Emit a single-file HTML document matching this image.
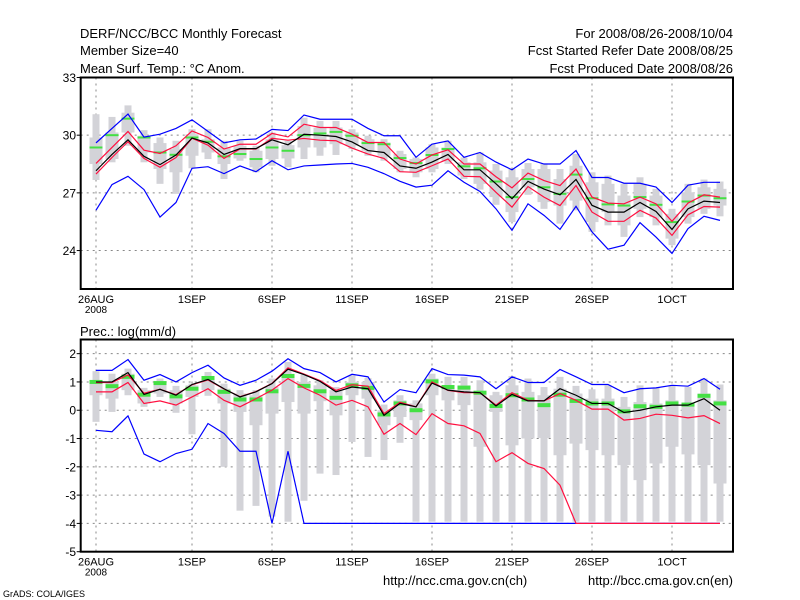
<!DOCTYPE html>
<html><head><meta charset="utf-8"><style>
body{margin:0;background:#fff;}
svg{display:block;}
text{font-family:"Liberation Sans",sans-serif;fill:#000;}
</style></head><body>
<svg id="c" width="800" height="600" viewBox="0 0 800 600" xmlns="http://www.w3.org/2000/svg">
<rect width="800" height="600" fill="#fff"/>
<g font-size="13">
<text x="80" y="38">DERF/NCC/BCC Monthly Forecast</text>
<text x="80" y="55">Member Size=40</text>
<text x="80" y="73">Mean Surf. Temp.: °C Anom.</text>
<text x="733" y="38" text-anchor="end">For 2008/08/26-2008/10/04</text>
<text x="733" y="55" text-anchor="end">Fcst Started Refer Date 2008/08/25</text>
<text x="733" y="73" text-anchor="end">Fcst Produced Date 2008/08/26</text>
<text x="80" y="336">Prec.: log(mm/d)</text>
<text x="383" y="585">http://ncc.cma.gov.cn(ch)</text>
<text x="733" y="585" text-anchor="end">http://bcc.cma.gov.cn(en)</text>
<text x="3" y="597" font-size="9">GrADS: COLA/IGES</text>
</g>
</svg>
<script>
// ---------- data: temperature panel ----------
const tBlack=[28.15,29.0,29.76,28.9,28.47,28.97,29.85,29.6,29.0,29.3,29.3,29.76,29.5,30.05,30.0,29.93,29.65,29.2,29.1,28.4,28.28,28.6,29.0,28.2,28.2,27.47,26.7,27.6,27.2,26.9,27.7,26.35,26.0,26.0,26.5,26.03,25.1,26.17,26.57,26.5];
const tRedUp=[28.53,29.36,30.19,29.22,29.05,29.45,30.22,29.88,29.28,29.53,29.53,30.09,29.91,30.57,30.4,30.4,30.05,29.62,29.62,28.76,28.5,28.97,29.24,28.5,28.5,27.84,27.26,28.03,27.64,27.38,28.24,26.78,26.47,26.43,26.78,26.43,25.52,26.47,26.9,26.78];
const tRedLo=[27.98,28.84,29.66,28.79,28.33,28.84,29.84,29.48,28.79,29.28,29.28,29.84,29.74,29.83,29.74,29.71,29.33,29.02,28.79,28.1,28.07,28.41,28.76,27.86,27.84,27.03,26.26,27.33,26.78,26.34,27.38,26.0,25.52,25.52,26.09,25.69,24.79,25.86,26.29,26.26];
const tBlueUp=[29.6,30.35,31.1,29.9,30.05,30.35,30.8,30.2,29.6,29.76,29.8,30.3,30.24,31.05,30.83,30.83,30.83,30.35,29.97,29.97,28.85,29.53,29.7,28.85,29.1,28.6,28.2,28.76,28.5,28.5,29.2,27.8,27.8,27.5,27.5,27.3,26.5,27.4,27.55,27.55];
const tBlueLo=[26.1,27.43,27.86,27.17,25.74,26.5,28.28,28.36,28.0,28.4,28.1,28.67,28.2,28.4,28.45,28.5,28.53,28.33,28.0,27.6,27.3,27.4,28.15,27.55,27.07,26.17,25.05,26.43,25.83,25.1,26.3,24.97,24.07,24.28,25.45,24.7,23.85,25.14,25.78,25.57];
const tMean=[29.36,30.0,30.86,29.88,29.1,28.98,29.88,29.66,28.9,29.02,28.76,29.36,29.19,30.0,30.09,30.17,29.97,29.59,29.53,28.81,28.55,28.97,29.28,28.38,28.28,27.59,26.78,27.72,27.29,26.95,27.95,26.72,26.4,26.34,26.78,26.38,25.48,26.55,26.86,26.72];
const tMax=[31.09,30.95,31.55,30.26,29.88,29.71,30.31,30.31,29.71,29.71,29.45,30.14,29.71,30.91,30.74,30.74,30.31,29.97,29.79,29.19,28.84,29.53,29.71,28.84,29.1,28.5,28.24,28.55,28.53,28.24,29.02,28.07,27.9,27.47,27.81,27.21,26.17,27.47,27.69,27.59];
const tMin=[27.67,28.59,29.45,28.59,27.47,26.95,28.28,28.76,27.72,28.67,28.07,28.41,28.33,28.76,28.93,28.97,29.28,28.93,28.67,28.07,27.81,28.07,28.5,27.72,27.17,26.38,25.48,26.9,26.17,25.4,26.09,24.97,25.31,24.71,25.74,25.31,24.28,25.4,25.91,25.78];
const tQ3=[29.88,30.14,31.17,29.97,29.59,29.28,30.05,29.79,29.36,29.45,29.19,29.79,29.48,30.48,30.4,30.4,30.14,29.79,29.62,29.02,28.76,29.36,29.36,28.59,28.59,28.16,27.81,28.24,28.24,27.72,28.41,27.55,27.47,26.86,27.47,26.86,25.91,27.03,27.29,27.21];
const tQ1=[28.5,28.76,30.14,29.1,28.24,28.07,28.93,29.1,28.5,28.79,28.33,28.76,28.79,29.36,29.36,29.53,29.45,29.19,28.93,28.24,28.07,28.24,28.67,27.9,27.47,26.78,26.0,27.29,26.52,26.34,26.6,25.48,26.0,25.31,26.17,25.74,24.62,25.74,26.17,26.34];
const tTicks=[24,27,30,33];
// ---------- data: precipitation panel ----------
const pBlack=[1.0,1.0,1.33,0.56,0.74,0.53,0.91,1.09,0.76,0.47,0.65,0.94,1.45,1.26,1.02,0.65,0.82,0.76,-0.18,0.24,0.12,0.96,0.71,0.65,0.62,0.15,0.56,0.33,0.33,0.76,0.53,0.24,0.24,-0.08,0,0.12,0.18,0.18,0.41,0];
const pRedUp=[0.98,0.98,1.25,0.6,0.74,0.55,0.9,1.07,0.75,0.48,0.66,0.95,1.5,1.28,1.05,0.7,0.9,0.85,-0.12,0.28,0.12,1.0,0.7,0.62,0.62,0.18,0.62,0.35,0.33,0.59,0.35,0.04,0.04,-0.35,-0.29,-0.14,-0.18,-0.27,-0.19,-0.47];
const pRedLo=[0.65,0.65,0.98,0.24,0.33,0.18,0.47,0.76,0.35,0.12,0.41,0.71,1.12,0.79,0.53,0.18,0.35,0.12,-0.85,-0.47,-0.86,-0.12,-0.47,-0.55,-0.82,-1.82,-1.5,-1.88,-2.06,-2.65,-4,-4,-4,-4,-4,-4,-4,-4,-4,-4];
const pBlueUp=[1.41,1.41,1.79,1.06,1.26,1.0,1.33,1.59,1.14,0.88,1.06,1.38,1.82,1.47,1.33,1.0,1.27,1.18,0.29,0.73,0.62,1.47,1.26,1.24,1.18,0.76,1.18,0.98,0.98,1.44,1.18,0.91,0.91,0.62,0.76,0.79,0.88,0.85,1.12,0.74];
const pBlueLo=[-0.71,-0.76,-0.2,-1.55,-1.82,-1.53,-1.38,-0.47,-0.82,-1.45,-1.45,-4,-1.45,-4,-4,-4,-4,-4,-4,-4,-4,-4,-4,-4,-4,-4,-4,-4,-4,-4,-4,-4,-4,-4,-4,-4,-4,-4,-4,-4];
const pMean=[1.0,0.85,1.18,0.55,0.96,0.49,0.76,1.14,0.65,0.38,0.38,0.67,1.21,0.86,0.67,0.44,0.88,0.79,-0.15,0.24,0.0,1.02,0.82,0.8,0.62,0.15,0.53,0.38,0.18,0.55,0.33,0.24,0.24,-0.04,0.14,0.12,0.24,0.2,0.51,0.24];
const pMax=[1.38,1.29,1.47,0.79,1.12,0.86,0.94,1.35,0.94,0.71,0.71,1.12,1.71,1.26,1.06,0.82,1.24,1.14,0.2,0.53,0.35,1.29,1.18,1.18,1.06,0.65,1.21,1.12,0.82,1.18,0.86,0.74,0.88,0.47,0.88,0.79,0.88,0.82,1.12,0.91];
const pMin=[-0.41,-0.06,0.53,0.12,0.47,-0.09,-0.85,0.51,-2.0,-3.55,-3.38,-3.76,-3.94,-3.2,-2.24,-2.29,-1.12,-1.65,-1.76,-1.15,-3.94,-3.94,-3.94,-3.94,-3.94,-3.94,-3.94,-3.94,-3.94,-3.94,-3.94,-3.94,-3.94,-3.94,-3.94,-3.94,-3.94,-3.94,-3.94,-3.94];
const pQ3=[1.06,1.0,1.29,0.71,1.0,0.71,0.88,1.18,0.76,0.59,0.53,0.82,1.29,1.0,0.88,0.71,1.0,1.0,0,0.35,0.24,1.12,0.88,0.88,0.65,0.53,0.88,0.65,0.53,0.76,0.59,0.41,0.41,0.12,0.29,0.24,0.35,0.24,0.59,0.35];
const pQ1=[0.53,0.41,0.71,0.24,0.59,0.24,0.47,0.71,0.24,-0.06,-0.53,-0.12,0.29,-0.12,0.32,-0.18,0.53,0.41,-0.53,-0.24,-0.35,0.53,0.35,0.18,-1.29,-0.06,-1.24,-1.0,-0.98,-1.59,-1.18,-1.41,-1.59,-1.94,-2.47,-1.88,-1.29,-1.56,-1.94,-2.59];
const pTicks=[-5,-4,-3,-2,-1,0,1,2];
const xTickDays=[0,6,11,16,21,26,31,36];
const xTickLabels=['26AUG','1SEP','6SEP','11SEP','16SEP','21SEP','26SEP','1OCT'];

const NS='http://www.w3.org/2000/svg';
const svg=document.getElementById('c');
function el(tag,attrs,parent){const e=document.createElementNS(NS,tag);for(const k in attrs)e.setAttribute(k,attrs[k]);(parent||svg).appendChild(e);return e;}
const X0=80.7,X1=733;
function xs(d){return 96+16*d;}

function panel(name,top,bot,vmin,vmax,ticks,series,tick0Label,meanH){
  const ys=v=>bot-(v-vmin)/(vmax-vmin)*(bot-top);
  const g=el('g',{});
  
  
  // grid
  const grid=el('g',{stroke:'#888','stroke-width':1,'stroke-dasharray':'2,4'},g);
  
  
  ticks.forEach(v=>{if(v>vmin&&v<vmax){const l=el('line',{x1:X0,x2:X1,y1:ys(v),y2:ys(v)},grid);}});
  xTickDays.forEach(d=>{const l=el('line',{x1:xs(d),x2:xs(d),y1:top,y2:bot},grid);});
  // boxes
  const boxes=el('g',{fill:'#d3d3d8'},g);
  
  
  series.max.forEach((m,i)=>{
    const x=xs(i);
    const r1=el('rect',{x:x-3.5,width:7,y:ys(m),height:ys(series.min[i])-ys(m)},boxes);
    
    
    const r2=el('rect',{x:x-6.5,width:13,y:ys(series.q3[i]),height:ys(series.q1[i])-ys(series.q3[i])},boxes);
    
    
  });
  // means
  series.mean.forEach((m,i)=>{
    const r=el('rect',{x:xs(i)-6.5,width:13,y:ys(m)-meanH/2,height:meanH,fill:'#44e044'},g);
    
    
  });
  const line=(arr,color,n)=>{
    const p=el('polyline',{points:arr.map((v,i)=>xs(i)+','+ys(v)).join(' '),fill:'none',stroke:color,'stroke-width':1.2},g);
    
    
  };
  line(series.blueUp,'#0000ff',name+'-upper-blue-line');
  line(series.blueLo,'#0000ff',name+'-lower-blue-line');
  line(series.redUp,'#ff1040',name+'-upper-red-line');
  line(series.redLo,'#ff1040',name+'-lower-red-line');
  line(series.black,'#000',name+'-median-line');
  // frame
  const f=el('rect',{x:X0,y:top,width:X1-X0,height:bot-top,fill:'none',stroke:'#000','stroke-width':2},g);
  
  
  // y labels
  ticks.forEach(v=>{
    const t=el('text',{x:76,y:ys(v)+4.5,'text-anchor':'end','font-size':12},g);
    t.textContent=String(v);
    
    
    const tk=el('line',{x1:X0-4,x2:X0,y1:ys(v),y2:ys(v),stroke:'#000'},g);
    
    
  });
  xTickDays.forEach((d,k)=>{
    const t=el('text',{x:xs(d),y:bot+14,'text-anchor':'middle','font-size':11},g);
    t.textContent=xTickLabels[k];
    
    
  });
  const y8=el('text',{x:xs(0),y:bot+24,'text-anchor':'middle','font-size':10},g);
  y8.textContent='2008';
  
  
}
panel('temperature-panel',77.5,289,22,33,tTicks,{black:tBlack,redUp:tRedUp,redLo:tRedLo,blueUp:tBlueUp,blueLo:tBlueLo,mean:tMean,max:tMax,min:tMin,q3:tQ3,q1:tQ1},true,2);
panel('precip-panel',339.5,551.7,-5,2.5,pTicks,{black:pBlack,redUp:pRedUp,redLo:pRedLo,blueUp:pBlueUp,blueLo:pBlueLo,mean:pMean,max:pMax,min:pMin,q3:pQ3,q1:pQ1},true,4);
</script>
</body></html>
